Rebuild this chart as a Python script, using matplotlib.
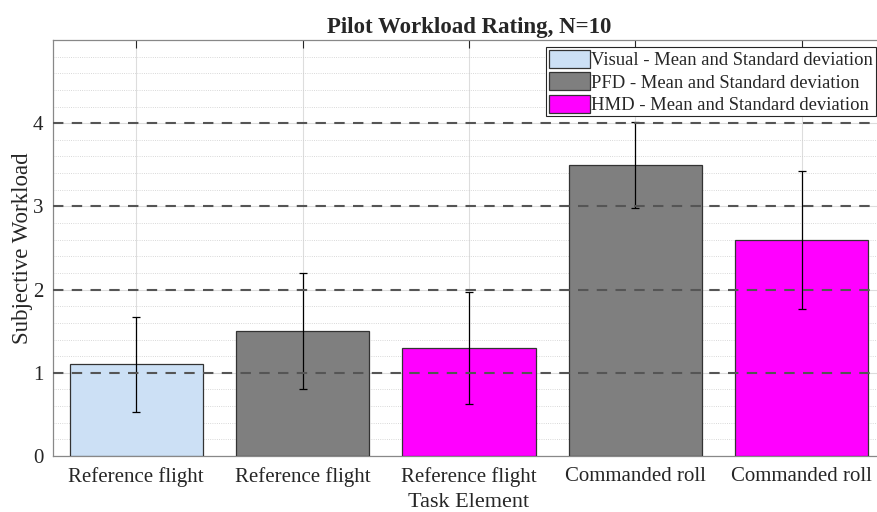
import matplotlib.pyplot as plt
from matplotlib.patches import Patch
from matplotlib.ticker import MultipleLocator

plt.rcParams['font.family'] = ['Liberation Serif', 'DejaVu Serif']
plt.rcParams['text.color'] = '#262626'
plt.rcParams['axes.labelcolor'] = '#262626'
plt.rcParams['xtick.labelcolor'] = '#262626'
plt.rcParams['ytick.labelcolor'] = '#262626'

labels = ['Reference flight', 'Reference flight', 'Reference flight',
          'Commanded roll', 'Commanded roll']
means = [1.1, 1.5, 1.3, 3.5, 2.6]
stds = [0.57, 0.70, 0.67, 0.52, 0.83]
groups = ['Visual', 'PFD', 'HMD', 'PFD', 'HMD']

colors = {'Visual': '#cce0f5', 'PFD': '#7f7f7f', 'HMD': '#ff00ff'}

fig = plt.figure(figsize=(8.77, 5.12), dpi=100)
ax = fig.add_axes([53 / 877, 56 / 512, 832 / 877, 416 / 512])

x = list(range(1, len(means) + 1))
ax.bar(x, means, width=0.8, color=[colors[g] for g in groups],
       edgecolor='#333333', linewidth=0.9, zorder=3)
ax.errorbar(x, means, yerr=stds, fmt='none', ecolor='black',
            elinewidth=0.9, capsize=3, capthick=0.9, zorder=4)

for yv in [1, 2, 3, 4]:
    ax.axhline(yv, color='#555555', linestyle=(0, (5, 4)), linewidth=1.5, zorder=5)

ax.set_xlim(0.5, 5.5)
ax.set_ylim(0, 5)
ax.set_yticks([0, 1, 2, 3, 4])
ax.yaxis.set_minor_locator(MultipleLocator(0.2))
ax.set_xticks(x)
ax.set_xticklabels(labels)

ax.grid(True, which='major', color='#dddddd', linewidth=0.8, zorder=0)
ax.grid(True, which='minor', axis='y', color='#cccccc', linestyle=':', linewidth=0.6, zorder=0)
ax.set_axisbelow(True)

ax.tick_params(axis='x', which='both', direction='in', top=True, length=6,
               labelsize=15, pad=8, color='#262626')
ax.tick_params(axis='y', which='major', direction='in', length=0, labelsize=15, pad=7)
ax.tick_params(axis='y', which='minor', length=0)
for s in ax.spines.values():
    s.set_color('#888888')
    s.set_linewidth(0.9)

ax.set_ylabel('Subjective Workload', fontsize=16.5, labelpad=0)
ax.set_xlabel('Task Element', fontsize=16, labelpad=4)
ax.set_title('Pilot Workload Rating, N=10', fontsize=16.5, fontweight='bold', pad=5)

handles = [Patch(facecolor=colors[g], edgecolor='#333333', linewidth=0.9)
           for g in ['Visual', 'PFD', 'HMD']]
leg_labels = ['Visual - Mean and Standard deviation',
              'PFD - Mean and Standard deviation',
              'HMD - Mean and Standard deviation']
leg = ax.legend(handles, leg_labels, loc='upper right', bbox_to_anchor=(875 / 885, 0.982),
                bbox_transform=ax.transAxes, fontsize=13.4, fancybox=False,
                framealpha=1, edgecolor='#262626', borderpad=0.12, labelspacing=0.18,
                handlelength=2.2, handleheight=1.1, handletextpad=0.1, borderaxespad=0.0)
leg.get_frame().set_linewidth(0.8)
leg.set_zorder(10)

fig.savefig('out.png', dpi=100)
